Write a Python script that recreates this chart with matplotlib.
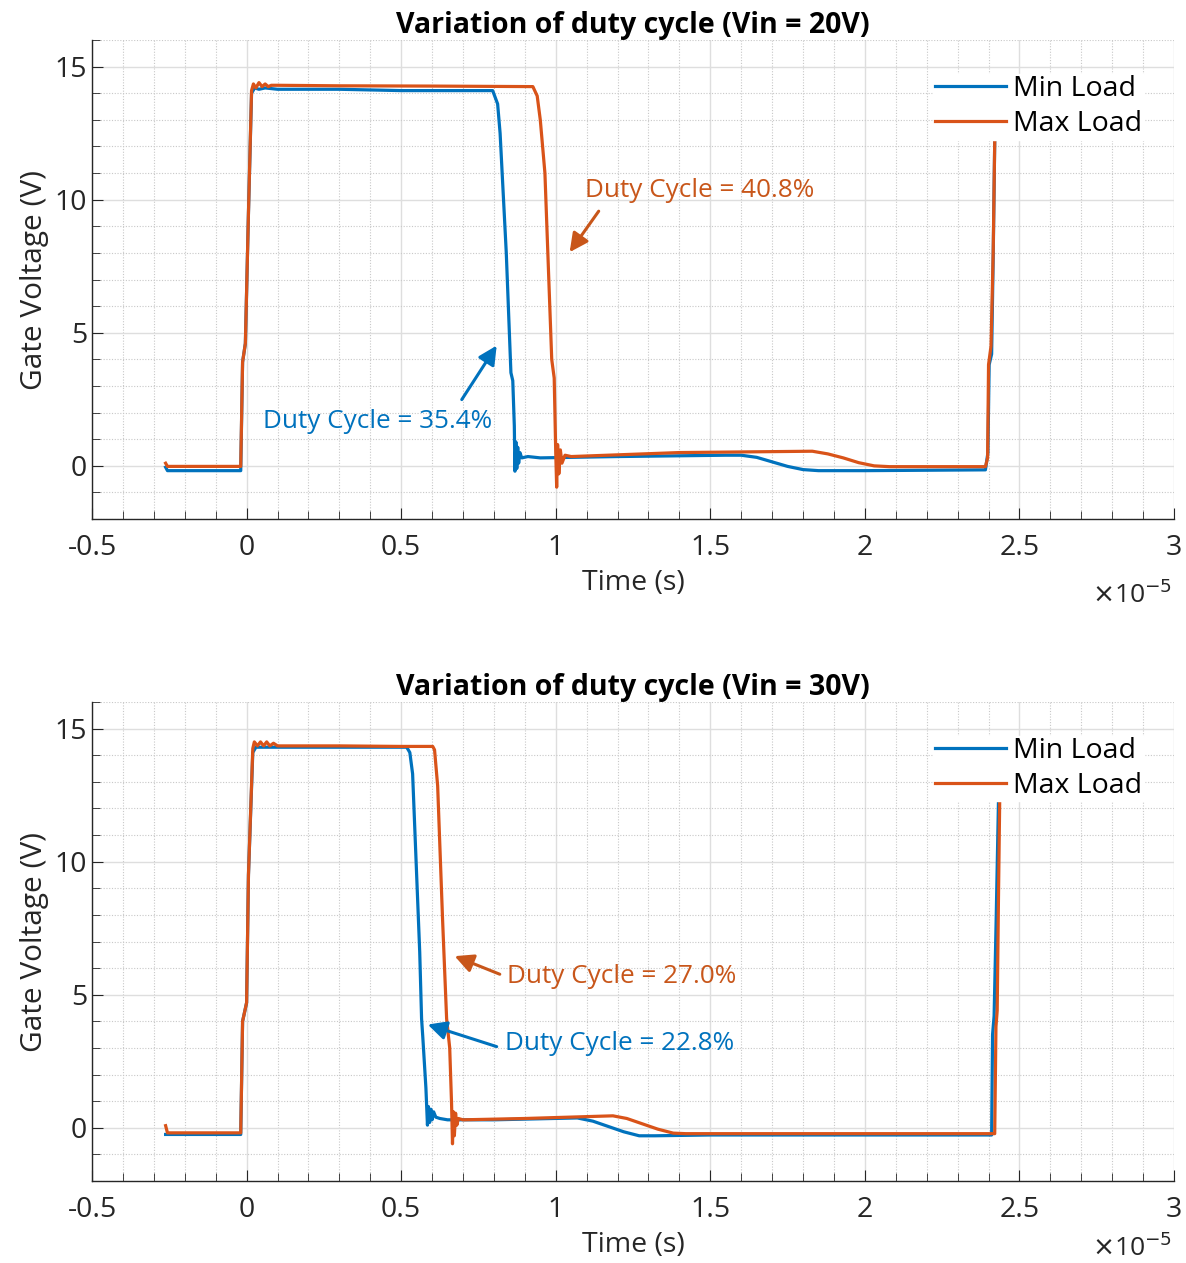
import numpy as np
import matplotlib
matplotlib.use('Agg')
import matplotlib.pyplot as plt
from matplotlib.ticker import MultipleLocator

plt.rcParams['font.family'] = ['Open Sans', 'DejaVu Sans']
plt.rcParams['axes.unicode_minus'] = False

BLUE = '#0072BD'
ORANGE = '#D95319'
TEXT_ORANGE = '#C8561A'

# time axis in units of 1e-5 s, gate voltage in V
# --- Vin = 20 V ---
t20_min = [-0.262, -0.256, -0.019, -0.013, -0.004, 0.006, 0.016, 0.026, 0.04, 0.06,
           0.1, 0.3, 0.5, 0.7, 0.796, 0.812, 0.82, 0.84, 0.855, 0.861, 0.866, 0.868,
           0.871, 0.874, 0.877, 0.88, 0.884, 0.89, 0.91, 0.95, 1.2, 1.55, 1.6, 1.65,
           1.7, 1.75, 1.8, 1.85, 2.0, 2.39, 2.398, 2.402, 2.41, 2.415, 2.42]
v20_min = [-0.05, -0.18, -0.18, 3.9, 4.6, 9.5, 14.0, 14.2, 14.15, 14.2,
           14.15, 14.15, 14.1, 14.1, 14.1, 13.6, 12.5, 8.0, 3.5, 3.2, 1.5, -0.2,
           0.9, -0.1, 0.7, 0.1, 0.5, 0.3, 0.35, 0.3, 0.35, 0.4, 0.4, 0.32,
           0.15, -0.02, -0.14, -0.18, -0.18, -0.15, 0.5, 3.8, 4.2, 7.8, 12.2]

t20_max = [-0.262, -0.256, -0.019, -0.013, -0.004, 0.006, 0.016, 0.022, 0.03, 0.04,
           0.05, 0.06, 0.07, 0.08, 0.1, 0.3, 0.6, 0.926, 0.94, 0.95, 0.965, 0.987,
           0.995, 1.0, 1.003, 1.006, 1.01, 1.015, 1.02, 1.03, 1.05, 1.4, 1.83, 1.88,
           1.93, 1.98, 2.03, 2.08, 2.39, 2.397, 2.4, 2.408, 2.415, 2.42]
v20_max = [0.1, -0.02, -0.02, 3.9, 4.6, 9.5, 14.1, 14.35, 14.2, 14.4,
           14.25, 14.35, 14.25, 14.3, 14.3, 14.28, 14.27, 14.25, 13.9, 13.0, 11.0, 4.0,
           3.3, 0.5, -0.8, 0.8, -0.3, 0.6, 0.1, 0.4, 0.35, 0.5, 0.55, 0.45,
           0.3, 0.12, 0.0, -0.03, -0.03, 0.3, 3.8, 4.5, 8.0, 12.2]

# --- Vin = 30 V ---
t30_min = [-0.262, -0.019, -0.013, 0.0, 0.006, 0.02, 0.03, 0.06, 0.1, 0.3, 0.518,
           0.528, 0.537, 0.56, 0.566, 0.57, 0.58, 0.585, 0.588, 0.592, 0.596, 0.6,
           0.605, 0.612, 0.625, 0.65, 0.8, 1.07, 1.12, 1.17, 1.22, 1.27, 1.32, 1.5,
           2.41, 2.413, 2.418, 2.425, 2.432]
v30_min = [-0.25, -0.25, 4.0, 4.7, 9.5, 14.1, 14.3, 14.3, 14.3, 14.3, 14.3,
           14.1, 13.3, 6.6, 4.1, 3.4, 1.5, 0.1, 0.8, 0.2, 0.7, 0.3, 0.6, 0.4,
           0.35, 0.3, 0.3, 0.37, 0.25, 0.05, -0.15, -0.3, -0.3, -0.27,
           -0.27, 3.5, 4.2, 8.0, 12.2]

t30_max = [-0.262, -0.256, -0.019, -0.013, 0.0, 0.006, 0.02, 0.025, 0.035, 0.045,
           0.055, 0.065, 0.075, 0.087, 0.1, 0.3, 0.5, 0.602, 0.608, 0.618, 0.634,
           0.647, 0.657, 0.663, 0.666, 0.669, 0.672, 0.676, 0.68, 0.685, 0.7, 0.9,
           1.185, 1.23, 1.28, 1.33, 1.38, 1.42, 1.6, 2.42, 2.424, 2.428, 2.432, 2.436]
v30_max = [0.08, -0.19, -0.19, 4.0, 4.7, 9.5, 14.25, 14.5, 14.35, 14.5,
           14.35, 14.5, 14.35, 14.45, 14.35, 14.35, 14.33, 14.33, 14.2, 12.85, 7.8,
           4.1, 3.0, 0.9, -0.6, 0.6, -0.3, 0.55, 0.1, 0.35, 0.3, 0.35,
           0.45, 0.35, 0.15, -0.05, -0.2, -0.22, -0.22, -0.22, 3.8, 4.4, 8.5, 12.2]

titles = ['Variation of duty cycle (Vin = 20V)', 'Variation of duty cycle (Vin = 30V)']
series = [(t20_min, v20_min, t20_max, v20_max), (t30_min, v30_min, t30_max, v30_max)]

# (text, text x, text y, arrow tail, arrow tip, colour)
notes = [
    [('Duty Cycle = 40.8%', 1.094, 10.33, (1.139, 9.57), (1.045, 8.03), TEXT_ORANGE),
     ('Duty Cycle = 35.4%', 0.052, 1.66, (0.696, 2.49), (0.809, 4.52), BLUE)],
    [('Duty Cycle = 27.0%', 0.841, 5.69, (0.819, 5.77), (0.673, 6.45), TEXT_ORANGE),
     ('Duty Cycle = 22.8%', 0.835, 3.17, (0.809, 3.05), (0.586, 3.88), BLUE)],
]

fig = plt.figure(figsize=(11.86, 12.63), dpi=100)
axes = [fig.add_axes([0.0776, 0.589, 0.9123, 0.3793]),
        fig.add_axes([0.0776, 0.0649, 0.9123, 0.3793])]

for i, (ax, title, (tmin, vmin, tmax, vmax), ann) in enumerate(zip(axes, titles, series, notes)):
    ax.plot(tmin, vmin, color=BLUE, lw=2.3, label='Min Load')
    ax.plot(tmax, vmax, color=ORANGE, lw=2.3, label='Max Load')

    ax.set_xlim(-0.5, 3)
    ax.set_ylim(-2, 16)
    ax.xaxis.set_major_locator(MultipleLocator(0.5))
    ax.xaxis.set_minor_locator(MultipleLocator(0.1))
    ax.yaxis.set_major_locator(MultipleLocator(5))
    ax.yaxis.set_minor_locator(MultipleLocator(1))
    ax.set_xticks([-0.5, 0, 0.5, 1, 1.5, 2, 2.5, 3])
    ax.set_xticklabels(['-0.5', '0', '0.5', '1', '1.5', '2', '2.5', '3'])

    ax.grid(True, which='major', color='#dedede', lw=1.0)
    ax.grid(True, which='minor', color='#c8c8c8', lw=0.8, linestyle=(0, (1, 1.5)))
    ax.set_axisbelow(True)
    for side in ('top', 'right'):
        ax.spines[side].set_visible(False)
    for side in ('left', 'bottom'):
        ax.spines[side].set_color('#262626')
        ax.spines[side].set_linewidth(1.0)
    ax.tick_params(which='both', direction='in', colors='#262626', labelsize=20.5,
                   labelcolor='#262626')
    ax.tick_params(which='major', length=8)
    ax.tick_params(which='minor', length=6)
    ax.tick_params(axis='x', pad=11)

    ax.set_title(title, fontsize=20.5, fontweight='bold', pad=2)
    ax.set_xlabel('Time (s)', fontsize=20.5, color='#262626', labelpad=5)
    ax.set_ylabel('Gate Voltage (V)', fontsize=21.5, color='#262626', labelpad=4)
    ax.text(0.998, -0.158 if i == 0 else -0.14, r'$\times$10$^{-5}$',
            transform=ax.transAxes, ha='right', va='center', fontsize=19,
            color='#262626')

    leg = ax.legend(loc='upper right', bbox_to_anchor=(0.972, 0.93), borderaxespad=0,
                    fontsize=20.5, handlelength=2.5, handletextpad=0.25,
                    labelspacing=0.25, frameon=True, fancybox=False, borderpad=0.05)
    leg.get_frame().set_edgecolor('white')
    leg.get_frame().set_facecolor('white')
    leg.get_frame().set_alpha(1)

    for text, tx, ty, tail, tip, col in ann:
        ax.text(tx, ty, text, color=col, fontsize=18.8, ha='left', va='center')
        ax.annotate('', xy=tip, xytext=tail,
                    arrowprops=dict(arrowstyle='-|>', color=col, lw=2.2,
                                    mutation_scale=28, shrinkA=0, shrinkB=0))

fig.savefig('out.png', dpi=100)
